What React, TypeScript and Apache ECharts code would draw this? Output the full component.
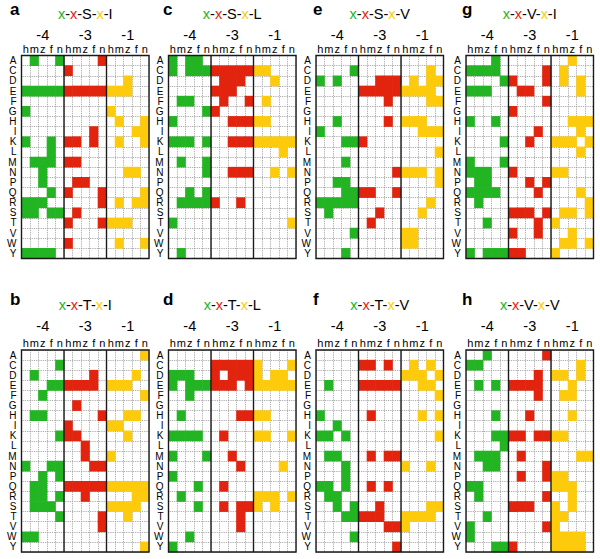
import React, { useEffect, useRef } from "react";
import * as echarts from "echarts";

// ---------- data ----------
const residues = ["A", "C", "D", "E", "F", "G", "H", "I", "K", "L", "M", "N", "P", "Q", "R", "S", "T", "V", "W", "Y"];
const species = ["h", "m", "z", "f", "n"];
const positions = ["-4", "-3", "-1"];
const positionColors = ["#22b422", "#e2230d", "#fdcb0b"];

// each row: residue (A..Y), 3 blocks (-4, -3, -1) of 5 species (h m z f n); 1 = coloured
const panelA = [
  "01001 00001 00000", "00000 10000 00000", "00000 00000 00100", "11111 11111 11100", "00000 00000 00000",
  "10000 00000 10000", "00000 00000 01001", "00000 00010 00011", "10010 11010 01001", "00010 00000 00000",
  "01110 11000 00000", "00100 00000 00110", "00100 01100 00000", "00010 10001 00001", "11100 00001 01011",
  "11011 01000 00000", "00000 10001 11100", "00000 00000 00000", "00000 10000 01001", "11110 00000 00000",
];
const panelB = [
  "00000 00000 00001", "00001 00000 00000", "01000 00010 00010", "00011 11110 11100", "00100 00000 00001",
  "00000 01000 00000", "01100 00001 00110", "00000 10000 11000", "00001 11000 00100", "00000 00100 00000",
  "00000 00100 10000", "10011 00011 00000", "00101 00000 00000", "01100 11111 11111", "01101 00100 00011",
  "01110 00000 11110", "00001 00001 00100", "00000 00001 00000", "11000 00000 00000", "00000 00000 00001",
];
const panelC = [
  "10110 00000 00000", "10111 11111 11000", "00000 01110 00100", "00000 11100 00000", "01100 01001 01000",
  "00001 10000 00000", "10000 00111 11000", "00000 00000 00000", "11101 00111 11111", "00000 00000 00010",
  "01001 00000 00000", "00001 00111 00101", "00000 00000 00000", "00101 00000 00000", "01111 10010 00000",
  "00000 00000 00000", "10000 00000 00001", "00000 00000 00000", "00000 00000 00000", "01000 00000 00000",
];
const panelD = [
  "00000 00000 00000", "00000 11111 10001", "11100 10111 10110", "10111 11101 11111", "00100 00000 00000",
  "00000 00000 00000", "01000 00011 11000", "00000 00000 00000", "11110 01000 11001", "00000 00000 00000",
  "10001 00100 00000", "00000 00010 00010", "10000 00000 00000", "00010 01000 00000", "01000 00000 11101",
  "00010 01011 10100", "00000 00010 00000", "00000 00010 00000", "00100 00000 00000", "10000 00000 00000",
];
const panelE = [
  "00000 00000 00000", "00001 00000 00010", "10100 00111 01011", "00000 11111 11110", "00000 00010 00011",
  "00000 00000 00000", "00100 00010 11100", "10000 00000 00111", "00011 10000 00000", "00000 00000 00001",
  "00010 00000 00000", "00000 00001 11101", "00110 00000 00001", "00011 11001 00000", "11111 00000 00010",
  "01000 00100 00100", "00000 01000 00000", "00001 00000 11000", "00000 00000 11000", "00010 00000 00000",
];
const panelF = [
  "00000 00000 00000", "00000 11010 01010", "00000 00000 11101", "01000 11111 00110", "00000 00000 00001",
  "00000 00000 00000", "10000 01000 00101", "00100 00000 00000", "11010 00000 00001", "00000 00000 00000",
  "01100 01011 00000", "00010 00000 10010", "00010 00000 00000", "11010 01010 00000", "01100 00000 00000",
  "00101 00100 00011", "00011 11100 11110", "00000 00011 10000", "00001 00000 00000", "00000 00001 00000",
];
const panelG = [
  "00010 00000 00100", "11110 00001 01000", "00001 10001 01010", "11100 01100 00010", "00000 00001 00000",
  "00000 10000 00000", "10010 00000 00111", "00000 00010 00010", "00001 00100 11101", "00000 00000 00010",
  "10001 00000 00000", "11100 10000 11000", "01100 00101 00000", "11110 00010 00010", "01000 00000 00001",
  "00000 11101 01101", "00100 00010 10000", "00000 10010 00100", "00000 00000 01101", "10111 11000 10000",
];
const panelH = [
  "00100 00001 00000", "11000 00000 00010", "00000 00010 11010", "01010 11110 00100", "00000 00010 01100",
  "00000 00000 00000", "00010 00100 00100", "00000 00000 00000", "00011 11011 11000", "00001 00000 00000",
  "01110 01000 00011", "00110 00001 00000", "00000 01001 11000", "11000 00000 11100", "01000 00001 00100",
  "00000 11100 10100", "00100 00000 11000", "10000 00001 10000", "10000 00000 11110", "00011 10000 11110",
];

// layout order: top row a c e g, bottom row b d f h
const panelGrids = [panelA, panelC, panelE, panelG, panelB, panelD, panelF, panelH];
const panelLetters = ["a", "c", "e", "g", "b", "d", "f", "h"];
const panelMiddle = ["S", "S", "S", "V", "T", "T", "T", "V"];
const panelLast = ["I", "L", "V", "I", "I", "L", "V", "V"];

// ---------- layout ----------
const FONT = "Liberation Sans";
const gridLefts = [21.5, 168.5, 316, 466];
const gridWidth = 127.5;
const rowTops = [55.5, 350];
const rowHeights = [203, 202];
const letterLefts = [10, 163, 313, 462];
const letterTops = [0.5, 291];
const titleTops = [6, 297];
const groupOffsets = [13, 17];

function buildOption() {
  const grid: any[] = [];
  const xAxis: any[] = [];
  const yAxis: any[] = [];
  const series: any[] = [];
  const title: any[] = [];
  const colIds: string[] = [];
  positions.forEach((p, gi) => species.forEach((s) => colIds.push(s + gi)));

  panelGrids.forEach((rows, i) => {
    const col = i % 4;
    const row = Math.floor(i / 4);
    grid.push({
      left: gridLefts[col],
      top: rowTops[row],
      width: gridWidth,
      height: rowHeights[row],
      show: false,
    });
    xAxis.push({
      type: "category",
      gridIndex: i,
      position: "top",
      data: colIds,
      axisLine: { show: false },
      axisTick: { show: false },
      axisLabel: {
        interval: 0,
        margin: 1.5,
        fontSize: 11,
        lineHeight: 11,
        color: "#000",
        fontFamily: FONT,
        formatter: (v: string) => v.charAt(0),
      },
      splitLine: { show: true, interval: 0, lineStyle: { type: "dotted", color: "#9a9a9a", width: 0.9 } },
    });
    xAxis.push({
      type: "category",
      gridIndex: i,
      position: "top",
      offset: groupOffsets[row],
      data: positions,
      axisLine: { show: false },
      axisTick: { show: false },
      axisLabel: { interval: 0, margin: 0, fontSize: 14.5, color: "#000", fontFamily: FONT },
      splitLine: { show: false },
    });
    yAxis.push({
      type: "category",
      gridIndex: i,
      inverse: true,
      data: residues,
      axisLine: { show: false },
      axisTick: { show: false },
      axisLabel: { interval: 0, margin: 5, fontSize: 10, lineHeight: 10, color: "#000", fontFamily: FONT },
      splitLine: { show: true, interval: 0, lineStyle: { type: "dotted", color: "#9a9a9a", width: 0.9 } },
    });

    const cells: number[][] = [];
    rows.forEach((str, r) => {
      const bits = str.replace(/\s/g, "");
      for (let c = 0; c < bits.length; c++) if (bits[c] === "1") cells.push([c, r]);
    });
    series.push({
      type: "custom",
      xAxisIndex: 2 * i,
      yAxisIndex: i,
      silent: true,
      data: cells,
      renderItem: (params: any, api: any) => {
        const c = api.value(0);
        const r = api.value(1);
        const p = api.coord([c, r]);
        const s = api.size([1, 1]);
        const g = Math.floor(c / species.length);
        return {
          type: "rect",
          shape: { x: p[0] - s[0] / 2 - 0.3, y: p[1] - s[1] / 2 - 0.3, width: s[0] + 0.6, height: s[1] + 0.6 },
          style: { fill: positionColors[g] },
        };
      },
      z: 2,
    });
    series.push({
      type: "custom",
      xAxisIndex: 2 * i,
      yAxisIndex: i,
      silent: true,
      data: [[0, 0]],
      renderItem: (params: any, api: any) => {
        const cs = params.coordSys;
        const bw = api.size([1, 0])[0];
        const children: any[] = [
          {
            type: "rect",
            shape: { x: cs.x, y: cs.y, width: cs.width, height: cs.height },
            style: { fill: "none", stroke: "#1a1a1a", lineWidth: 1.4 },
          },
        ];
        for (let k = 1; k < positions.length; k++) {
          const x = api.coord([k * species.length, 0])[0] - bw / 2;
          children.push({
            type: "line",
            shape: { x1: x, y1: cs.y, x2: x, y2: cs.y + cs.height },
            style: { stroke: "#1a1a1a", lineWidth: 1.4 },
          });
        }
        return { type: "group", children };
      },
      z: 5,
    });

    title.push({
      text: panelLetters[i],
      left: letterLefts[col],
      top: letterTops[row],
      padding: 0,
      textStyle: { fontSize: 17, fontWeight: "bold", color: "#000", fontFamily: FONT },
    });
    title.push({
      text: `{g|x}-{r|x}-${panelMiddle[i]}-{y|x}-${panelLast[i]}`,
      left: gridLefts[col] + gridWidth / 2,
      top: titleTops[row],
      textAlign: "center",
      padding: 0,
      textStyle: {
        fontSize: 14.5,
        fontWeight: "normal",
        color: "#000",
        fontFamily: FONT,
        rich: {
          g: { color: positionColors[0], fontSize: 14.5, fontFamily: FONT },
          r: { color: positionColors[1], fontSize: 14.5, fontFamily: FONT },
          y: { color: positionColors[2], fontSize: 14.5, fontFamily: FONT },
        },
      },
    });
  });

  return {
    animation: false,
    backgroundColor: "#fff",
    textStyle: { fontFamily: FONT },
    title,
    grid,
    xAxis,
    yAxis,
    series,
  };
}

export default function App() {
  const ref = useRef<HTMLDivElement>(null);
  useEffect(() => {
    if (!ref.current) return;
    const chart = echarts.init(ref.current, undefined, { renderer: "svg" });
    chart.setOption(buildOption() as any);
    return () => chart.dispose();
  }, []);
  return (
    <div
      ref={ref}
      style={{ position: "fixed", left: 0, top: 0, width: 600, height: 559, background: "#fff" }}
    />
  );
}
